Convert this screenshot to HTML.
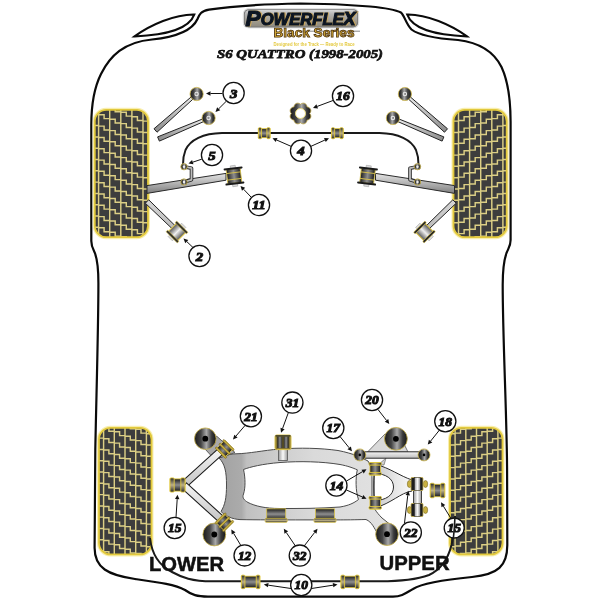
<!DOCTYPE html>
<html><head><meta charset="utf-8"><style>
html,body{margin:0;padding:0;background:#fff;}
svg{display:block;will-change:transform;}
.num{font-family:"Liberation Serif",serif;font-weight:bold;font-style:italic;text-anchor:middle;fill:#111;stroke:#111;stroke-width:1.0;}
.lbl{font-family:"Liberation Sans",sans-serif;font-weight:bold;fill:#111;}
</style></head><body>
<svg width="600" height="600" viewBox="0 0 600 600">
<defs>
<radialGradient id="gBall" cx="0.5" cy="0.5" r="0.5"><stop offset="0" stop-color="#9a9a9a"/><stop offset="0.55" stop-color="#6a6a6a"/><stop offset="1" stop-color="#1e1e1e"/></radialGradient>
<linearGradient id="gDisc" x1="0" y1="0" x2="1" y2="0"><stop offset="0" stop-color="#1a1a1a"/><stop offset="0.3" stop-color="#444"/><stop offset="0.55" stop-color="#a9a9a9"/><stop offset="0.8" stop-color="#3a3a3a"/><stop offset="1" stop-color="#161616"/></linearGradient>
<linearGradient id="gCyl" x1="0" y1="0" x2="0" y2="1"><stop offset="0" stop-color="#1b1b1b"/><stop offset="0.5" stop-color="#8e8e8e"/><stop offset="1" stop-color="#1b1b1b"/></linearGradient>
<linearGradient id="gCylL" x1="0" y1="0" x2="0" y2="1"><stop offset="0" stop-color="#2a2a2a"/><stop offset="0.5" stop-color="#bcb08a"/><stop offset="1" stop-color="#2a2a2a"/></linearGradient>
<linearGradient id="gCylV" x1="0" y1="0" x2="1" y2="0"><stop offset="0" stop-color="#1b1b1b"/><stop offset="0.5" stop-color="#8e8e8e"/><stop offset="1" stop-color="#1b1b1b"/></linearGradient>
<linearGradient id="gCylVL" x1="0" y1="0" x2="1" y2="0"><stop offset="0" stop-color="#2a2a2a"/><stop offset="0.5" stop-color="#bcb08a"/><stop offset="1" stop-color="#2a2a2a"/></linearGradient>
<linearGradient id="gCylV2" x1="0" y1="0" x2="1" y2="0"><stop offset="0" stop-color="#555"/><stop offset="0.5" stop-color="#f0f0f0"/><stop offset="1" stop-color="#555"/></linearGradient>
<linearGradient id="gRod" x1="0" y1="0" x2="0" y2="1"><stop offset="0" stop-color="#f6f6f6"/><stop offset="1" stop-color="#c4c4c4"/></linearGradient>
<linearGradient id="gTube" x1="0" y1="0" x2="1" y2="0"><stop offset="0" stop-color="#9a9a9a"/><stop offset="0.5" stop-color="#fafafa"/><stop offset="1" stop-color="#9a9a9a"/></linearGradient>
<linearGradient id="gArmF" x1="0" y1="0" x2="0" y2="1"><stop offset="0" stop-color="#e4e4e4"/><stop offset="0.4" stop-color="#bdbdbd"/><stop offset="1" stop-color="#7e7e7e"/></linearGradient>
<linearGradient id="gArmC" x1="0" y1="0" x2="1" y2="0"><stop offset="0" stop-color="#c8c8c8"/><stop offset="0.6" stop-color="#e8e8e8"/><stop offset="1" stop-color="#f8f8f8"/></linearGradient>
<linearGradient id="gSub" x1="0" y1="0" x2="1" y2="0"><stop offset="0" stop-color="#a2a2a2"/><stop offset="0.13" stop-color="#ababab"/><stop offset="0.16" stop-color="#c0c0c0"/><stop offset="0.35" stop-color="#cecece"/><stop offset="0.55" stop-color="#dadada"/><stop offset="1" stop-color="#e2e2e2"/></linearGradient>
<linearGradient id="gArm" x1="0" y1="0" x2="0" y2="1"><stop offset="0" stop-color="#f4f4f4"/><stop offset="1" stop-color="#bdbdbd"/></linearGradient>
<linearGradient id="gLogo" x1="0" y1="0" x2="0" y2="1"><stop offset="0" stop-color="#d6d6d6"/><stop offset="0.25" stop-color="#b4b4b4"/><stop offset="0.7" stop-color="#a09a8c"/><stop offset="1" stop-color="#8e8a80"/></linearGradient>
</defs>

<path d="M300.5,3.5 C262,4.2 228,6.6 209,9.6 C201,11 199.5,14 197.5,19 C193,29 181,36.5 152,39.5 C124,42 110,56 101,74 C94,88 91.3,104 91.3,125 L91.3,241 C91.3,245.5 92.5,248 94,251 C96.5,256 98.4,266 98.4,283 C98.4,330 96.2,400 95.3,450 L94.6,548 C94.6,568 108,575 135,579 C160,582.5 175,584.5 185,590 C192,595 197,596.6 208,596.6 L393,596.6 C402,596.6 406,593 413,589 C421,584 440,580 472,577 C498,574.5 507.3,566 507.3,545 L507.1,475 C507.1,420 502.7,340 502.7,285 C502.7,270 504,260 506.5,253 C508.5,248 510.6,246 510.6,240 L510.6,122 C510.6,99 507.5,80 501.5,67 C494,52 479,42.5 458,40 C436,38.5 420,36 411.5,29.5 C406,24 404.5,15.5 401,12.6 C396,10 382,7.6 370,6.5 C345,4.3 320,3.5 300.5,3.5 Z" fill="none" stroke="#0a0a0a" stroke-width="2.2"/>
<path d="M134.5,36.4 C150,25 175,14 194.4,14.4 C189,29 168,35 134.5,36.4 Z" fill="#fff" stroke="#0a0a0a" stroke-width="2"/>
<path d="M467,36.4 C451.5,25 426.5,14 407.1,14.4 C412.5,29 433.5,35 467,36.4 Z" fill="#fff" stroke="#0a0a0a" stroke-width="2"/>
<clipPath id="clip941090"><rect x="94.8" y="109.8" width="53.2" height="127.4" rx="11.5"/></clipPath>
<rect x="93.6" y="108.6" width="55.6" height="129.8" rx="12.5" fill="none" stroke="#f6ea9a" stroke-width="1.6" opacity="0.8"/>
<rect x="94.8" y="109.8" width="53.2" height="127.4" rx="11.5" fill="#3d3d3d"/>
<path clip-path="url(#clip941090)" d="M87.5,109.8 V237.2 M87.5,87.8 H93.0 V91.6 H98.6 M87.5,99.2 H93.0 V103.0 H98.6 M87.5,110.5 H93.0 V114.2 H98.6 M87.5,121.8 H93.0 V125.5 H98.6 M87.5,133.1 H93.0 V136.9 H98.6 M87.5,144.4 H93.0 V148.2 H98.6 M87.5,155.7 H93.0 V159.5 H98.6 M87.5,166.9 H93.0 V170.8 H98.6 M87.5,178.2 H93.0 V182.1 H98.6 M87.5,189.6 H93.0 V193.4 H98.6 M87.5,200.9 H93.0 V204.7 H98.6 M87.5,212.2 H93.0 V216.0 H98.6 M87.5,223.4 H93.0 V227.2 H98.6 M87.5,234.8 H93.0 V238.6 H98.6 M87.5,246.1 H93.0 V249.9 H98.6 M98.6,109.8 V237.2 M98.6,92.2 H104.1 V96.0 H109.7 M98.6,103.5 H104.1 V107.3 H109.7 M98.6,114.8 H104.1 V118.6 H109.7 M98.6,126.1 H104.1 V129.9 H109.7 M98.6,137.4 H104.1 V141.2 H109.7 M98.6,148.8 H104.1 V152.6 H109.7 M98.6,160.1 H104.1 V163.9 H109.7 M98.6,171.3 H104.1 V175.2 H109.7 M98.6,182.7 H104.1 V186.5 H109.7 M98.6,193.9 H104.1 V197.8 H109.7 M98.6,205.2 H104.1 V209.1 H109.7 M98.6,216.6 H104.1 V220.4 H109.7 M98.6,227.8 H104.1 V231.7 H109.7 M98.6,239.2 H104.1 V243.0 H109.7 M109.7,109.8 V237.2 M109.7,96.7 H115.2 V100.5 H120.8 M109.7,108.0 H115.2 V111.8 H120.8 M109.7,119.2 H115.2 V123.0 H120.8 M109.7,130.6 H115.2 V134.4 H120.8 M109.7,141.8 H115.2 V145.7 H120.8 M109.7,153.2 H115.2 V157.0 H120.8 M109.7,164.4 H115.2 V168.2 H120.8 M109.7,175.8 H115.2 V179.6 H120.8 M109.7,187.1 H115.2 V190.9 H120.8 M109.7,198.4 H115.2 V202.2 H120.8 M109.7,209.7 H115.2 V213.5 H120.8 M109.7,220.9 H115.2 V224.8 H120.8 M109.7,232.2 H115.2 V236.1 H120.8 M109.7,243.6 H115.2 V247.4 H120.8 M120.8,109.8 V237.2 M120.8,89.8 H126.3 V93.5 H131.9 M120.8,101.0 H126.3 V104.8 H131.9 M120.8,112.3 H126.3 V116.1 H131.9 M120.8,123.6 H126.3 V127.4 H131.9 M120.8,134.9 H126.3 V138.8 H131.9 M120.8,146.2 H126.3 V150.1 H131.9 M120.8,157.6 H126.3 V161.4 H131.9 M120.8,168.8 H126.3 V172.7 H131.9 M120.8,180.2 H126.3 V184.0 H131.9 M120.8,191.4 H126.3 V195.2 H131.9 M120.8,202.8 H126.3 V206.6 H131.9 M120.8,214.1 H126.3 V217.9 H131.9 M120.8,225.3 H126.3 V229.2 H131.9 M120.8,236.7 H126.3 V240.5 H131.9 M120.8,248.0 H126.3 V251.8 H131.9 M131.9,109.8 V237.2 M131.9,94.2 H137.4 V98.0 H143.0 M131.9,105.5 H137.4 V109.2 H143.0 M131.9,116.8 H137.4 V120.5 H143.0 M131.9,128.1 H137.4 V131.9 H143.0 M131.9,139.3 H137.4 V143.2 H143.0 M131.9,150.7 H137.4 V154.5 H143.0 M131.9,161.9 H137.4 V165.8 H143.0 M131.9,173.2 H137.4 V177.1 H143.0 M131.9,184.6 H137.4 V188.4 H143.0 M131.9,195.9 H137.4 V199.7 H143.0 M131.9,207.2 H137.4 V211.0 H143.0 M131.9,218.4 H137.4 V222.2 H143.0 M131.9,229.8 H137.4 V233.6 H143.0 M131.9,241.1 H137.4 V244.9 H143.0 M143.0,109.8 V237.2 M143.0,87.2 H148.6 V91.0 H154.1 M143.0,98.5 H148.6 V102.3 H154.1 M143.0,109.8 H148.6 V113.6 H154.1 M143.0,121.1 H148.6 V124.9 H154.1 M143.0,132.4 H148.6 V136.2 H154.1 M143.0,143.8 H148.6 V147.6 H154.1 M143.0,155.1 H148.6 V158.9 H154.1 M143.0,166.3 H148.6 V170.2 H154.1 M143.0,177.7 H148.6 V181.5 H154.1 M143.0,188.9 H148.6 V192.8 H154.1 M143.0,200.2 H148.6 V204.1 H154.1 M143.0,211.6 H148.6 V215.4 H154.1 M143.0,222.8 H148.6 V226.7 H154.1 M143.0,234.2 H148.6 V238.0 H154.1 M143.0,245.5 H148.6 V249.3 H154.1 M154.1,109.8 V237.2 M154.1,91.7 H159.7 V95.5 H165.2 M154.1,103.0 H159.7 V106.8 H165.2 M154.1,114.2 H159.7 V118.0 H165.2 M154.1,125.5 H159.7 V129.3 H165.2 M154.1,136.8 H159.7 V140.7 H165.2 M154.1,148.2 H159.7 V152.0 H165.2 M154.1,159.4 H159.7 V163.2 H165.2 M154.1,170.8 H159.7 V174.6 H165.2 M154.1,182.1 H159.7 V185.9 H165.2 M154.1,193.4 H159.7 V197.2 H165.2 M154.1,204.7 H159.7 V208.5 H165.2 M154.1,215.9 H159.7 V219.8 H165.2 M154.1,227.2 H159.7 V231.1 H165.2 M154.1,238.6 H159.7 V242.4 H165.2" fill="none" stroke="#dccf85" stroke-width="1.45"/>
<rect x="94.8" y="109.8" width="53.2" height="127.4" rx="11.5" fill="none" stroke="#e2c93c" stroke-width="1.8"/>
<g transform="translate(601.5,0) scale(-1,1)">
<clipPath id="clip941091"><rect x="94.8" y="109.8" width="53.2" height="127.4" rx="11.5"/></clipPath>
<rect x="93.6" y="108.6" width="55.6" height="129.8" rx="12.5" fill="none" stroke="#f6ea9a" stroke-width="1.6" opacity="0.8"/>
<rect x="94.8" y="109.8" width="53.2" height="127.4" rx="11.5" fill="#3d3d3d"/>
<path clip-path="url(#clip941091)" d="M87.5,109.8 V237.2 M87.5,87.8 H93.0 V91.6 H98.6 M87.5,99.2 H93.0 V103.0 H98.6 M87.5,110.5 H93.0 V114.2 H98.6 M87.5,121.8 H93.0 V125.5 H98.6 M87.5,133.1 H93.0 V136.9 H98.6 M87.5,144.4 H93.0 V148.2 H98.6 M87.5,155.7 H93.0 V159.5 H98.6 M87.5,166.9 H93.0 V170.8 H98.6 M87.5,178.2 H93.0 V182.1 H98.6 M87.5,189.6 H93.0 V193.4 H98.6 M87.5,200.9 H93.0 V204.7 H98.6 M87.5,212.2 H93.0 V216.0 H98.6 M87.5,223.4 H93.0 V227.2 H98.6 M87.5,234.8 H93.0 V238.6 H98.6 M87.5,246.1 H93.0 V249.9 H98.6 M98.6,109.8 V237.2 M98.6,92.2 H104.1 V96.0 H109.7 M98.6,103.5 H104.1 V107.3 H109.7 M98.6,114.8 H104.1 V118.6 H109.7 M98.6,126.1 H104.1 V129.9 H109.7 M98.6,137.4 H104.1 V141.2 H109.7 M98.6,148.8 H104.1 V152.6 H109.7 M98.6,160.1 H104.1 V163.9 H109.7 M98.6,171.3 H104.1 V175.2 H109.7 M98.6,182.7 H104.1 V186.5 H109.7 M98.6,193.9 H104.1 V197.8 H109.7 M98.6,205.2 H104.1 V209.1 H109.7 M98.6,216.6 H104.1 V220.4 H109.7 M98.6,227.8 H104.1 V231.7 H109.7 M98.6,239.2 H104.1 V243.0 H109.7 M109.7,109.8 V237.2 M109.7,96.7 H115.2 V100.5 H120.8 M109.7,108.0 H115.2 V111.8 H120.8 M109.7,119.2 H115.2 V123.0 H120.8 M109.7,130.6 H115.2 V134.4 H120.8 M109.7,141.8 H115.2 V145.7 H120.8 M109.7,153.2 H115.2 V157.0 H120.8 M109.7,164.4 H115.2 V168.2 H120.8 M109.7,175.8 H115.2 V179.6 H120.8 M109.7,187.1 H115.2 V190.9 H120.8 M109.7,198.4 H115.2 V202.2 H120.8 M109.7,209.7 H115.2 V213.5 H120.8 M109.7,220.9 H115.2 V224.8 H120.8 M109.7,232.2 H115.2 V236.1 H120.8 M109.7,243.6 H115.2 V247.4 H120.8 M120.8,109.8 V237.2 M120.8,89.8 H126.3 V93.5 H131.9 M120.8,101.0 H126.3 V104.8 H131.9 M120.8,112.3 H126.3 V116.1 H131.9 M120.8,123.6 H126.3 V127.4 H131.9 M120.8,134.9 H126.3 V138.8 H131.9 M120.8,146.2 H126.3 V150.1 H131.9 M120.8,157.6 H126.3 V161.4 H131.9 M120.8,168.8 H126.3 V172.7 H131.9 M120.8,180.2 H126.3 V184.0 H131.9 M120.8,191.4 H126.3 V195.2 H131.9 M120.8,202.8 H126.3 V206.6 H131.9 M120.8,214.1 H126.3 V217.9 H131.9 M120.8,225.3 H126.3 V229.2 H131.9 M120.8,236.7 H126.3 V240.5 H131.9 M120.8,248.0 H126.3 V251.8 H131.9 M131.9,109.8 V237.2 M131.9,94.2 H137.4 V98.0 H143.0 M131.9,105.5 H137.4 V109.2 H143.0 M131.9,116.8 H137.4 V120.5 H143.0 M131.9,128.1 H137.4 V131.9 H143.0 M131.9,139.3 H137.4 V143.2 H143.0 M131.9,150.7 H137.4 V154.5 H143.0 M131.9,161.9 H137.4 V165.8 H143.0 M131.9,173.2 H137.4 V177.1 H143.0 M131.9,184.6 H137.4 V188.4 H143.0 M131.9,195.9 H137.4 V199.7 H143.0 M131.9,207.2 H137.4 V211.0 H143.0 M131.9,218.4 H137.4 V222.2 H143.0 M131.9,229.8 H137.4 V233.6 H143.0 M131.9,241.1 H137.4 V244.9 H143.0 M143.0,109.8 V237.2 M143.0,87.2 H148.6 V91.0 H154.1 M143.0,98.5 H148.6 V102.3 H154.1 M143.0,109.8 H148.6 V113.6 H154.1 M143.0,121.1 H148.6 V124.9 H154.1 M143.0,132.4 H148.6 V136.2 H154.1 M143.0,143.8 H148.6 V147.6 H154.1 M143.0,155.1 H148.6 V158.9 H154.1 M143.0,166.3 H148.6 V170.2 H154.1 M143.0,177.7 H148.6 V181.5 H154.1 M143.0,188.9 H148.6 V192.8 H154.1 M143.0,200.2 H148.6 V204.1 H154.1 M143.0,211.6 H148.6 V215.4 H154.1 M143.0,222.8 H148.6 V226.7 H154.1 M143.0,234.2 H148.6 V238.0 H154.1 M143.0,245.5 H148.6 V249.3 H154.1 M154.1,109.8 V237.2 M154.1,91.7 H159.7 V95.5 H165.2 M154.1,103.0 H159.7 V106.8 H165.2 M154.1,114.2 H159.7 V118.0 H165.2 M154.1,125.5 H159.7 V129.3 H165.2 M154.1,136.8 H159.7 V140.7 H165.2 M154.1,148.2 H159.7 V152.0 H165.2 M154.1,159.4 H159.7 V163.2 H165.2 M154.1,170.8 H159.7 V174.6 H165.2 M154.1,182.1 H159.7 V185.9 H165.2 M154.1,193.4 H159.7 V197.2 H165.2 M154.1,204.7 H159.7 V208.5 H165.2 M154.1,215.9 H159.7 V219.8 H165.2 M154.1,227.2 H159.7 V231.1 H165.2 M154.1,238.6 H159.7 V242.4 H165.2" fill="none" stroke="#dccf85" stroke-width="1.45"/>
<rect x="94.8" y="109.8" width="53.2" height="127.4" rx="11.5" fill="none" stroke="#e2c93c" stroke-width="1.8"/>
</g>
<clipPath id="clip994270"><rect x="99" y="427.8" width="52.5" height="126.6" rx="11.5"/></clipPath>
<rect x="97.8" y="426.6" width="54.9" height="129.0" rx="12.5" fill="none" stroke="#f6ea9a" stroke-width="1.6" opacity="0.8"/>
<rect x="99" y="427.8" width="52.5" height="126.6" rx="11.5" fill="#3d3d3d"/>
<path clip-path="url(#clip994270)" d="M92.9,427.8 V554.4 M92.9,411.6 H98.2 V415.4 H103.6 M92.9,422.9 H98.2 V426.8 H103.6 M92.9,434.2 H98.2 V438.1 H103.6 M92.9,445.6 H98.2 V449.4 H103.6 M92.9,456.9 H98.2 V460.7 H103.6 M92.9,468.1 H98.2 V471.9 H103.6 M92.9,479.4 H98.2 V483.2 H103.6 M92.9,490.8 H98.2 V494.6 H103.6 M92.9,502.1 H98.2 V505.9 H103.6 M92.9,513.4 H98.2 V517.1 H103.6 M92.9,524.6 H98.2 V528.4 H103.6 M92.9,536.0 H98.2 V539.8 H103.6 M92.9,547.2 H98.2 V551.0 H103.6 M92.9,558.5 H98.2 V562.3 H103.6 M103.6,427.8 V554.4 M103.6,416.1 H108.9 V419.9 H114.3 M103.6,427.4 H108.9 V431.2 H114.3 M103.6,438.7 H108.9 V442.5 H114.3 M103.6,450.0 H108.9 V453.8 H114.3 M103.6,461.3 H108.9 V465.1 H114.3 M103.6,472.6 H108.9 V476.4 H114.3 M103.6,483.9 H108.9 V487.7 H114.3 M103.6,495.2 H108.9 V499.0 H114.3 M103.6,506.5 H108.9 V510.3 H114.3 M103.6,517.8 H108.9 V521.5 H114.3 M103.6,529.1 H108.9 V532.9 H114.3 M103.6,540.4 H108.9 V544.1 H114.3 M103.6,551.7 H108.9 V555.5 H114.3 M103.6,563.0 H108.9 V566.8 H114.3 M114.3,427.8 V554.4 M114.3,409.1 H119.6 V412.9 H125.0 M114.3,420.4 H119.6 V424.2 H125.0 M114.3,431.8 H119.6 V435.6 H125.0 M114.3,443.1 H119.6 V446.9 H125.0 M114.3,454.4 H119.6 V458.2 H125.0 M114.3,465.6 H119.6 V469.4 H125.0 M114.3,476.9 H119.6 V480.8 H125.0 M114.3,488.2 H119.6 V492.1 H125.0 M114.3,499.6 H119.6 V503.4 H125.0 M114.3,510.9 H119.6 V514.6 H125.0 M114.3,522.1 H119.6 V525.9 H125.0 M114.3,533.5 H119.6 V537.2 H125.0 M114.3,544.8 H119.6 V548.5 H125.0 M114.3,556.0 H119.6 V559.8 H125.0 M125.0,427.8 V554.4 M125.0,413.6 H130.3 V417.4 H135.7 M125.0,424.9 H130.3 V428.7 H135.7 M125.0,436.2 H130.3 V440.0 H135.7 M125.0,447.5 H130.3 V451.3 H135.7 M125.0,458.8 H130.3 V462.6 H135.7 M125.0,470.1 H130.3 V473.9 H135.7 M125.0,481.4 H130.3 V485.2 H135.7 M125.0,492.7 H130.3 V496.5 H135.7 M125.0,504.0 H130.3 V507.8 H135.7 M125.0,515.2 H130.3 V519.0 H135.7 M125.0,526.6 H130.3 V530.4 H135.7 M125.0,537.9 H130.3 V541.6 H135.7 M125.0,549.2 H130.3 V553.0 H135.7 M125.0,560.5 H130.3 V564.2 H135.7 M135.7,427.8 V554.4 M135.7,406.6 H141.0 V410.4 H146.4 M135.7,417.9 H141.0 V421.8 H146.4 M135.7,429.2 H141.0 V433.1 H146.4 M135.7,440.6 H141.0 V444.4 H146.4 M135.7,451.9 H141.0 V455.7 H146.4 M135.7,463.1 H141.0 V466.9 H146.4 M135.7,474.4 H141.0 V478.2 H146.4 M135.7,485.8 H141.0 V489.6 H146.4 M135.7,497.1 H141.0 V500.9 H146.4 M135.7,508.4 H141.0 V512.1 H146.4 M135.7,519.6 H141.0 V523.4 H146.4 M135.7,531.0 H141.0 V534.8 H146.4 M135.7,542.2 H141.0 V546.0 H146.4 M135.7,553.5 H141.0 V557.3 H146.4 M135.7,564.9 H141.0 V568.6 H146.4 M146.4,427.8 V554.4 M146.4,411.1 H151.7 V414.9 H157.1 M146.4,422.4 H151.7 V426.2 H157.1 M146.4,433.7 H151.7 V437.5 H157.1 M146.4,445.0 H151.7 V448.8 H157.1 M146.4,456.3 H151.7 V460.1 H157.1 M146.4,467.6 H151.7 V471.4 H157.1 M146.4,478.9 H151.7 V482.7 H157.1 M146.4,490.2 H151.7 V494.0 H157.1 M146.4,501.5 H151.7 V505.3 H157.1 M146.4,512.8 H151.7 V516.5 H157.1 M146.4,524.1 H151.7 V527.9 H157.1 M146.4,535.4 H151.7 V539.1 H157.1 M146.4,546.7 H151.7 V550.5 H157.1 M146.4,558.0 H151.7 V561.8 H157.1 M157.1,427.8 V554.4 M157.1,415.4 H162.4 V419.2 H167.8 M157.1,426.8 H162.4 V430.6 H167.8 M157.1,438.1 H162.4 V441.9 H167.8 M157.1,449.4 H162.4 V453.2 H167.8 M157.1,460.7 H162.4 V464.5 H167.8 M157.1,472.0 H162.4 V475.8 H167.8 M157.1,483.2 H162.4 V487.1 H167.8 M157.1,494.6 H162.4 V498.4 H167.8 M157.1,505.9 H162.4 V509.7 H167.8 M157.1,517.1 H162.4 V520.9 H167.8 M157.1,528.5 H162.4 V532.2 H167.8 M157.1,539.8 H162.4 V543.5 H167.8 M157.1,551.0 H162.4 V554.8 H167.8 M157.1,562.4 H162.4 V566.1 H167.8" fill="none" stroke="#dccf85" stroke-width="1.45"/>
<rect x="99" y="427.8" width="52.5" height="126.6" rx="11.5" fill="none" stroke="#e2c93c" stroke-width="1.8"/>
<g transform="translate(601.5,0) scale(-1,1)">
<clipPath id="clip994271"><rect x="99" y="427.8" width="52.5" height="126.6" rx="11.5"/></clipPath>
<rect x="97.8" y="426.6" width="54.9" height="129.0" rx="12.5" fill="none" stroke="#f6ea9a" stroke-width="1.6" opacity="0.8"/>
<rect x="99" y="427.8" width="52.5" height="126.6" rx="11.5" fill="#3d3d3d"/>
<path clip-path="url(#clip994271)" d="M92.9,427.8 V554.4 M92.9,411.6 H98.2 V415.4 H103.6 M92.9,422.9 H98.2 V426.8 H103.6 M92.9,434.2 H98.2 V438.1 H103.6 M92.9,445.6 H98.2 V449.4 H103.6 M92.9,456.9 H98.2 V460.7 H103.6 M92.9,468.1 H98.2 V471.9 H103.6 M92.9,479.4 H98.2 V483.2 H103.6 M92.9,490.8 H98.2 V494.6 H103.6 M92.9,502.1 H98.2 V505.9 H103.6 M92.9,513.4 H98.2 V517.1 H103.6 M92.9,524.6 H98.2 V528.4 H103.6 M92.9,536.0 H98.2 V539.8 H103.6 M92.9,547.2 H98.2 V551.0 H103.6 M92.9,558.5 H98.2 V562.3 H103.6 M103.6,427.8 V554.4 M103.6,416.1 H108.9 V419.9 H114.3 M103.6,427.4 H108.9 V431.2 H114.3 M103.6,438.7 H108.9 V442.5 H114.3 M103.6,450.0 H108.9 V453.8 H114.3 M103.6,461.3 H108.9 V465.1 H114.3 M103.6,472.6 H108.9 V476.4 H114.3 M103.6,483.9 H108.9 V487.7 H114.3 M103.6,495.2 H108.9 V499.0 H114.3 M103.6,506.5 H108.9 V510.3 H114.3 M103.6,517.8 H108.9 V521.5 H114.3 M103.6,529.1 H108.9 V532.9 H114.3 M103.6,540.4 H108.9 V544.1 H114.3 M103.6,551.7 H108.9 V555.5 H114.3 M103.6,563.0 H108.9 V566.8 H114.3 M114.3,427.8 V554.4 M114.3,409.1 H119.6 V412.9 H125.0 M114.3,420.4 H119.6 V424.2 H125.0 M114.3,431.8 H119.6 V435.6 H125.0 M114.3,443.1 H119.6 V446.9 H125.0 M114.3,454.4 H119.6 V458.2 H125.0 M114.3,465.6 H119.6 V469.4 H125.0 M114.3,476.9 H119.6 V480.8 H125.0 M114.3,488.2 H119.6 V492.1 H125.0 M114.3,499.6 H119.6 V503.4 H125.0 M114.3,510.9 H119.6 V514.6 H125.0 M114.3,522.1 H119.6 V525.9 H125.0 M114.3,533.5 H119.6 V537.2 H125.0 M114.3,544.8 H119.6 V548.5 H125.0 M114.3,556.0 H119.6 V559.8 H125.0 M125.0,427.8 V554.4 M125.0,413.6 H130.3 V417.4 H135.7 M125.0,424.9 H130.3 V428.7 H135.7 M125.0,436.2 H130.3 V440.0 H135.7 M125.0,447.5 H130.3 V451.3 H135.7 M125.0,458.8 H130.3 V462.6 H135.7 M125.0,470.1 H130.3 V473.9 H135.7 M125.0,481.4 H130.3 V485.2 H135.7 M125.0,492.7 H130.3 V496.5 H135.7 M125.0,504.0 H130.3 V507.8 H135.7 M125.0,515.2 H130.3 V519.0 H135.7 M125.0,526.6 H130.3 V530.4 H135.7 M125.0,537.9 H130.3 V541.6 H135.7 M125.0,549.2 H130.3 V553.0 H135.7 M125.0,560.5 H130.3 V564.2 H135.7 M135.7,427.8 V554.4 M135.7,406.6 H141.0 V410.4 H146.4 M135.7,417.9 H141.0 V421.8 H146.4 M135.7,429.2 H141.0 V433.1 H146.4 M135.7,440.6 H141.0 V444.4 H146.4 M135.7,451.9 H141.0 V455.7 H146.4 M135.7,463.1 H141.0 V466.9 H146.4 M135.7,474.4 H141.0 V478.2 H146.4 M135.7,485.8 H141.0 V489.6 H146.4 M135.7,497.1 H141.0 V500.9 H146.4 M135.7,508.4 H141.0 V512.1 H146.4 M135.7,519.6 H141.0 V523.4 H146.4 M135.7,531.0 H141.0 V534.8 H146.4 M135.7,542.2 H141.0 V546.0 H146.4 M135.7,553.5 H141.0 V557.3 H146.4 M135.7,564.9 H141.0 V568.6 H146.4 M146.4,427.8 V554.4 M146.4,411.1 H151.7 V414.9 H157.1 M146.4,422.4 H151.7 V426.2 H157.1 M146.4,433.7 H151.7 V437.5 H157.1 M146.4,445.0 H151.7 V448.8 H157.1 M146.4,456.3 H151.7 V460.1 H157.1 M146.4,467.6 H151.7 V471.4 H157.1 M146.4,478.9 H151.7 V482.7 H157.1 M146.4,490.2 H151.7 V494.0 H157.1 M146.4,501.5 H151.7 V505.3 H157.1 M146.4,512.8 H151.7 V516.5 H157.1 M146.4,524.1 H151.7 V527.9 H157.1 M146.4,535.4 H151.7 V539.1 H157.1 M146.4,546.7 H151.7 V550.5 H157.1 M146.4,558.0 H151.7 V561.8 H157.1 M157.1,427.8 V554.4 M157.1,415.4 H162.4 V419.2 H167.8 M157.1,426.8 H162.4 V430.6 H167.8 M157.1,438.1 H162.4 V441.9 H167.8 M157.1,449.4 H162.4 V453.2 H167.8 M157.1,460.7 H162.4 V464.5 H167.8 M157.1,472.0 H162.4 V475.8 H167.8 M157.1,483.2 H162.4 V487.1 H167.8 M157.1,494.6 H162.4 V498.4 H167.8 M157.1,505.9 H162.4 V509.7 H167.8 M157.1,517.1 H162.4 V520.9 H167.8 M157.1,528.5 H162.4 V532.2 H167.8 M157.1,539.8 H162.4 V543.5 H167.8 M157.1,551.0 H162.4 V554.8 H167.8 M157.1,562.4 H162.4 V566.1 H167.8" fill="none" stroke="#dccf85" stroke-width="1.45"/>
<rect x="99" y="427.8" width="52.5" height="126.6" rx="11.5" fill="none" stroke="#e2c93c" stroke-width="1.8"/>
</g>
<rect x="243.3" y="8.6" width="115.4" height="19.4" rx="5.5" fill="#777" stroke="#e2e2e2" stroke-width="1.1"/>
<rect x="244.8" y="10" width="112.4" height="16.6" rx="4.5" fill="url(#gLogo)"/>
<text x="245.6" y="24.6" font-family="Liberation Sans, sans-serif" font-weight="bold" font-style="italic" fill="#c9a65e" stroke="#c9a65e" stroke-width="1.1" textLength="110" lengthAdjust="spacingAndGlyphs" transform="translate(1.1,0.4)"><tspan font-size="22" dy="0.9">P</tspan><tspan font-size="16.2" dy="-0.9">OWERFLE</tspan><tspan font-size="17.5">X</tspan></text>
<text x="245.6" y="24.6" font-family="Liberation Sans, sans-serif" font-weight="bold" font-style="italic" fill="#0c1522" stroke="#0c1522" stroke-width="1.1" textLength="110" lengthAdjust="spacingAndGlyphs"><tspan font-size="22" dy="0.9">P</tspan><tspan font-size="16.2" dy="-0.9">OWERFLE</tspan><tspan font-size="17.5">X</tspan></text>
<line x1="300" y1="31.2" x2="360" y2="31.2" stroke="#6b6b6b" stroke-width="0.8"/>
<text x="273.5" y="36.6" font-family="Liberation Sans, sans-serif" font-weight="bold" font-size="12.6" fill="#d6ab36" stroke="#4d3410" stroke-width="0.75" textLength="81" lengthAdjust="spacingAndGlyphs">Black Series</text>
<text x="273.5" y="45.6" font-family="Liberation Sans, sans-serif" font-size="5.6" font-weight="bold" fill="#e4c93e" textLength="81" lengthAdjust="spacingAndGlyphs">Designed for the Track — Ready to Race</text>
<text x="300" y="58" text-anchor="middle" font-family="Liberation Serif, serif" font-weight="bold" font-style="italic" font-size="13.5" fill="#111" stroke="#111" stroke-width="0.75" textLength="166" lengthAdjust="spacingAndGlyphs">S6 QUATTRO (1998-2005)</text>
<linearGradient id="rg1" gradientUnits="userSpaceOnUse" x1="155.5" y1="130.5" x2="196.6" y2="94"><stop offset="0" stop-color="#8c8c8c"/><stop offset="1" stop-color="#f2f2f2"/></linearGradient>
<path d="M157.03,132.22 L197.46,94.97 L195.74,93.03 L153.97,128.78 Z" fill="url(#rg1)" stroke="#222" stroke-width="1" stroke-linejoin="round"/>
<linearGradient id="rg2" gradientUnits="userSpaceOnUse" x1="158.5" y1="139" x2="208.6" y2="118"><stop offset="0" stop-color="#8c8c8c"/><stop offset="1" stop-color="#f2f2f2"/></linearGradient>
<path d="M159.39,141.12 L209.10,119.20 L208.10,116.80 L157.61,136.88 Z" fill="url(#rg2)" stroke="#222" stroke-width="1" stroke-linejoin="round"/>
<circle cx="196.6" cy="94" r="6.6" fill="url(#gDisc)" stroke="#cdb64c" stroke-width="0.8"/>
<circle cx="196.6" cy="94" r="1.7" fill="none" stroke="#e8e8e8" stroke-width="1.1"/>
<circle cx="208.6" cy="118" r="6.6" fill="url(#gDisc)" stroke="#cdb64c" stroke-width="0.8"/>
<circle cx="208.6" cy="118" r="1.7" fill="none" stroke="#e8e8e8" stroke-width="1.1"/>
<path d="M147,185.6 L226,173.4 L226,180.2 L147,193.4 Z" fill="url(#gArmF)" stroke="#2a2a2a" stroke-width="1"/>
<linearGradient id="rg3" gradientUnits="userSpaceOnUse" x1="147" y1="201.5" x2="175" y2="228.5"><stop offset="0" stop-color="#d4d4d4"/><stop offset="1" stop-color="#bcbcbc"/></linearGradient>
<path d="M145.33,203.23 L173.54,230.01 L176.46,226.99 L148.67,199.77 Z" fill="url(#rg3)" stroke="#222" stroke-width="1" stroke-linejoin="round"/>
<path d="M302,133 L222,133 C203,133.3 190,140 185.5,150 C183.5,155 183,160 183,164.5" fill="none" stroke="#1a1a1a" stroke-width="2"/>
<path d="M184,166.7 L191.5,168.2 L191.5,179.8 L184,182" fill="none" stroke="#2a2a2a" stroke-width="3.6" stroke-linejoin="round"/>
<path d="M184,166.7 L191.5,168.2 L191.5,179.8 L184,182" fill="none" stroke="#bdbdbd" stroke-width="1.8" stroke-linejoin="round"/>
<circle cx="184" cy="166.7" r="3.2" fill="url(#gDisc)" stroke="#cdb64c" stroke-width="0.8"/>
<circle cx="184" cy="166.7" r="1.2" fill="#eee"/>
<circle cx="184" cy="182" r="3.2" fill="url(#gDisc)" stroke="#cdb64c" stroke-width="0.8"/>
<circle cx="184" cy="182" r="1.2" fill="#eee"/>
<g transform="translate(264.2,133.2) rotate(0)">
<rect x="-5.85" y="-4.5" width="11.7" height="9" fill="url(#gCyl)" stroke="#e2c93c" stroke-width="0.8"/>
<rect x="-5.85" y="-5.5" width="3.2" height="11" rx="1" fill="url(#gCylL)" stroke="#e2c93c" stroke-width="0.9"/>
<rect x="2.6499999999999995" y="-5.5" width="3.2" height="11" rx="1" fill="url(#gCylL)" stroke="#e2c93c" stroke-width="0.9"/>
</g>
<g transform="translate(234,176) rotate(-7)">
<rect x="-2.5" y="-10.5" width="5" height="3" fill="#ddd" stroke="#999" stroke-width="0.5"/>
<rect x="-2.5" y="7.5" width="5" height="3" fill="#ddd" stroke="#999" stroke-width="0.5"/>
<rect x="-7" y="-7.2" width="14" height="14.4" fill="url(#gCylV)" stroke="#d8c24a" stroke-width="0.8"/>
<line x1="-7" y1="-3.3" x2="7" y2="-3.3" stroke="#d8c24a" stroke-width="0.9"/>
<line x1="-7" y1="3.3" x2="7" y2="3.3" stroke="#d8c24a" stroke-width="0.9"/>
<rect x="-9.5" y="-8.6" width="19" height="2" rx="0.8" fill="#1a1a1a"/>
<rect x="-9.5" y="6.6" width="19" height="2" rx="0.8" fill="#1a1a1a"/>
</g>
<g transform="translate(177,232) rotate(45)">
<rect x="-3" y="-9.5" width="6" height="3" fill="#ddd" stroke="#999" stroke-width="0.5"/>
<rect x="-3" y="6.5" width="6" height="3" fill="#ddd" stroke="#999" stroke-width="0.5"/>
<rect x="-6.5" y="-6.5" width="13" height="13" fill="url(#gCylV2)" stroke="#d8c24a" stroke-width="1"/>
<rect x="-8" y="-7.5" width="16" height="2.2" rx="0.8" fill="#2a2a2a" stroke="#d8c24a" stroke-width="0.6"/>
<rect x="-8" y="5.3" width="16" height="2.2" rx="0.8" fill="#2a2a2a" stroke="#d8c24a" stroke-width="0.6"/>
</g>
<g transform="translate(601.5,0) scale(-1,1)">
<linearGradient id="rg4" gradientUnits="userSpaceOnUse" x1="155.5" y1="130.5" x2="196.6" y2="94"><stop offset="0" stop-color="#8c8c8c"/><stop offset="1" stop-color="#f2f2f2"/></linearGradient>
<path d="M157.03,132.22 L197.46,94.97 L195.74,93.03 L153.97,128.78 Z" fill="url(#rg4)" stroke="#222" stroke-width="1" stroke-linejoin="round"/>
<linearGradient id="rg5" gradientUnits="userSpaceOnUse" x1="158.5" y1="139" x2="208.6" y2="118"><stop offset="0" stop-color="#8c8c8c"/><stop offset="1" stop-color="#f2f2f2"/></linearGradient>
<path d="M159.39,141.12 L209.10,119.20 L208.10,116.80 L157.61,136.88 Z" fill="url(#rg5)" stroke="#222" stroke-width="1" stroke-linejoin="round"/>
<circle cx="196.6" cy="94" r="6.6" fill="url(#gDisc)" stroke="#cdb64c" stroke-width="0.8"/>
<circle cx="196.6" cy="94" r="1.7" fill="none" stroke="#e8e8e8" stroke-width="1.1"/>
<circle cx="208.6" cy="118" r="6.6" fill="url(#gDisc)" stroke="#cdb64c" stroke-width="0.8"/>
<circle cx="208.6" cy="118" r="1.7" fill="none" stroke="#e8e8e8" stroke-width="1.1"/>
<path d="M147,185.6 L226,173.4 L226,180.2 L147,193.4 Z" fill="url(#gArmF)" stroke="#2a2a2a" stroke-width="1"/>
<linearGradient id="rg6" gradientUnits="userSpaceOnUse" x1="147" y1="201.5" x2="175" y2="228.5"><stop offset="0" stop-color="#d4d4d4"/><stop offset="1" stop-color="#bcbcbc"/></linearGradient>
<path d="M145.33,203.23 L173.54,230.01 L176.46,226.99 L148.67,199.77 Z" fill="url(#rg6)" stroke="#222" stroke-width="1" stroke-linejoin="round"/>
<path d="M302,133 L222,133 C203,133.3 190,140 185.5,150 C183.5,155 183,160 183,164.5" fill="none" stroke="#1a1a1a" stroke-width="2"/>
<path d="M184,166.7 L191.5,168.2 L191.5,179.8 L184,182" fill="none" stroke="#2a2a2a" stroke-width="3.6" stroke-linejoin="round"/>
<path d="M184,166.7 L191.5,168.2 L191.5,179.8 L184,182" fill="none" stroke="#bdbdbd" stroke-width="1.8" stroke-linejoin="round"/>
<circle cx="184" cy="166.7" r="3.2" fill="url(#gDisc)" stroke="#cdb64c" stroke-width="0.8"/>
<circle cx="184" cy="166.7" r="1.2" fill="#eee"/>
<circle cx="184" cy="182" r="3.2" fill="url(#gDisc)" stroke="#cdb64c" stroke-width="0.8"/>
<circle cx="184" cy="182" r="1.2" fill="#eee"/>
<g transform="translate(264.2,133.2) rotate(0)">
<rect x="-5.85" y="-4.5" width="11.7" height="9" fill="url(#gCyl)" stroke="#e2c93c" stroke-width="0.8"/>
<rect x="-5.85" y="-5.5" width="3.2" height="11" rx="1" fill="url(#gCylL)" stroke="#e2c93c" stroke-width="0.9"/>
<rect x="2.6499999999999995" y="-5.5" width="3.2" height="11" rx="1" fill="url(#gCylL)" stroke="#e2c93c" stroke-width="0.9"/>
</g>
<g transform="translate(234,176) rotate(-7)">
<rect x="-2.5" y="-10.5" width="5" height="3" fill="#ddd" stroke="#999" stroke-width="0.5"/>
<rect x="-2.5" y="7.5" width="5" height="3" fill="#ddd" stroke="#999" stroke-width="0.5"/>
<rect x="-7" y="-7.2" width="14" height="14.4" fill="url(#gCylV)" stroke="#d8c24a" stroke-width="0.8"/>
<line x1="-7" y1="-3.3" x2="7" y2="-3.3" stroke="#d8c24a" stroke-width="0.9"/>
<line x1="-7" y1="3.3" x2="7" y2="3.3" stroke="#d8c24a" stroke-width="0.9"/>
<rect x="-9.5" y="-8.6" width="19" height="2" rx="0.8" fill="#1a1a1a"/>
<rect x="-9.5" y="6.6" width="19" height="2" rx="0.8" fill="#1a1a1a"/>
</g>
<g transform="translate(177,232) rotate(45)">
<rect x="-3" y="-9.5" width="6" height="3" fill="#ddd" stroke="#999" stroke-width="0.5"/>
<rect x="-3" y="6.5" width="6" height="3" fill="#ddd" stroke="#999" stroke-width="0.5"/>
<rect x="-6.5" y="-6.5" width="13" height="13" fill="url(#gCylV2)" stroke="#d8c24a" stroke-width="1"/>
<rect x="-8" y="-7.5" width="16" height="2.2" rx="0.8" fill="#2a2a2a" stroke="#d8c24a" stroke-width="0.6"/>
<rect x="-8" y="5.3" width="16" height="2.2" rx="0.8" fill="#2a2a2a" stroke="#d8c24a" stroke-width="0.6"/>
</g>
</g>
<path d="M309.70,113.50 L310.18,114.13 L310.52,114.82 L310.74,115.54 L310.83,116.27 L310.77,116.99 L310.57,117.67 L310.23,118.30 L309.76,118.85 L309.18,119.30 L308.52,119.66 L307.80,119.90 L307.01,120.01 L306.90,120.80 L306.66,121.52 L306.30,122.18 L305.85,122.76 L305.30,123.23 L304.67,123.57 L303.99,123.77 L303.27,123.83 L302.54,123.74 L301.82,123.52 L301.13,123.18 L300.50,122.70 L299.87,123.18 L299.18,123.52 L298.46,123.74 L297.73,123.83 L297.01,123.77 L296.33,123.57 L295.70,123.23 L295.15,122.76 L294.70,122.18 L294.34,121.52 L294.10,120.80 L293.99,120.01 L293.20,119.90 L292.48,119.66 L291.82,119.30 L291.24,118.85 L290.77,118.30 L290.43,117.67 L290.23,116.99 L290.17,116.27 L290.26,115.54 L290.48,114.82 L290.82,114.13 L291.30,113.50 L290.82,112.87 L290.48,112.18 L290.26,111.46 L290.17,110.73 L290.23,110.01 L290.43,109.33 L290.77,108.70 L291.24,108.15 L291.82,107.70 L292.48,107.34 L293.20,107.10 L293.99,106.99 L294.10,106.20 L294.34,105.48 L294.70,104.82 L295.15,104.24 L295.70,103.77 L296.33,103.43 L297.01,103.23 L297.73,103.17 L298.46,103.26 L299.18,103.48 L299.87,103.82 L300.50,104.30 L301.13,103.82 L301.82,103.48 L302.54,103.26 L303.27,103.17 L303.99,103.23 L304.67,103.43 L305.30,103.77 L305.85,104.24 L306.30,104.82 L306.66,105.48 L306.90,106.20 L307.01,106.99 L307.80,107.10 L308.52,107.34 L309.18,107.70 L309.76,108.15 L310.23,108.70 L310.57,109.33 L310.77,110.01 L310.83,110.73 L310.74,111.46 L310.52,112.18 L310.18,112.87 L309.70,113.50 Z" fill="url(#gDisc)" stroke="#b89e3c" stroke-width="0.8"/>
<circle cx="300.5" cy="113.5" r="5" fill="#fff" stroke="#e9d97a" stroke-width="1"/>
<circle cx="233.6" cy="93" r="10.6" fill="#fff" stroke="#111" stroke-width="1.3"/>
<text x="233.6" y="97.62" class="num" font-size="13.2" textLength="7.4" lengthAdjust="spacingAndGlyphs">3</text>
<line x1="222.5" y1="93.5" x2="210.50" y2="93.50" stroke="#111" stroke-width="1"/>
<path d="M206,93.5 L210.50,91.30 L210.50,95.70 Z" fill="#111"/>
<line x1="226" y1="101.5" x2="218.68" y2="108.82" stroke="#111" stroke-width="1"/>
<path d="M215.5,112 L217.13,107.26 L220.24,110.37 Z" fill="#111"/>
<circle cx="343" cy="96" r="10.6" fill="#fff" stroke="#111" stroke-width="1.3"/>
<text x="343" y="100.27" class="num" font-size="12.2" textLength="13.4" lengthAdjust="spacingAndGlyphs">16</text>
<line x1="333" y1="100.5" x2="317.21" y2="106.42" stroke="#111" stroke-width="1"/>
<path d="M313,108 L316.44,104.36 L317.99,108.48 Z" fill="#111"/>
<circle cx="301" cy="150.8" r="10.6" fill="#fff" stroke="#111" stroke-width="1.3"/>
<text x="301" y="155.42" class="num" font-size="13.2" textLength="7.4" lengthAdjust="spacingAndGlyphs">4</text>
<line x1="291" y1="146.3" x2="276.62" y2="140.00" stroke="#111" stroke-width="1"/>
<path d="M272.5,138.2 L277.50,137.99 L275.74,142.02 Z" fill="#111"/>
<line x1="311" y1="146.3" x2="324.90" y2="140.05" stroke="#111" stroke-width="1"/>
<path d="M329,138.2 L325.80,142.05 L323.99,138.04 Z" fill="#111"/>
<circle cx="212" cy="155" r="10.6" fill="#fff" stroke="#111" stroke-width="1.3"/>
<text x="212" y="159.62" class="num" font-size="13.2" textLength="7.4" lengthAdjust="spacingAndGlyphs">5</text>
<line x1="201.7" y1="159.2" x2="192.77" y2="162.18" stroke="#111" stroke-width="1"/>
<path d="M188.5,163.6 L192.07,160.09 L193.46,164.26 Z" fill="#111"/>
<circle cx="259" cy="205" r="10.6" fill="#fff" stroke="#111" stroke-width="1.3"/>
<text x="259" y="209.27" class="num" font-size="12.2" textLength="13.4" lengthAdjust="spacingAndGlyphs">11</text>
<line x1="251" y1="197" x2="243.61" y2="189.26" stroke="#111" stroke-width="1"/>
<path d="M240.5,186 L245.20,187.74 L242.02,190.77 Z" fill="#111"/>
<circle cx="199.5" cy="256" r="10.6" fill="#fff" stroke="#111" stroke-width="1.3"/>
<text x="199.5" y="260.62" class="num" font-size="13.2" textLength="7.4" lengthAdjust="spacingAndGlyphs">2</text>
<line x1="193" y1="247.5" x2="186.77" y2="241.59" stroke="#111" stroke-width="1"/>
<path d="M183.5,238.5 L188.28,240.00 L185.25,243.19 Z" fill="#111"/>
<path d="M150,538 C152,556 160,566 172,572 C182,577.5 192,581.3 212,581.3 L380,581.3 C400,581.3 418,579 429,575 C442,569 448,559 451.5,545 C453.5,536 454.5,526 455,516" fill="none" stroke="#1a1a1a" stroke-width="2"/>
<g transform="translate(250.6,581.9) rotate(0)">
<rect x="-9.25" y="-5.75" width="18.5" height="11.5" fill="url(#gCyl)" stroke="#e2c93c" stroke-width="0.8"/>
<rect x="-9.25" y="-6.75" width="3.6" height="13.5" rx="1" fill="url(#gCylL)" stroke="#e2c93c" stroke-width="0.9"/>
<rect x="5.65" y="-6.75" width="3.6" height="13.5" rx="1" fill="url(#gCylL)" stroke="#e2c93c" stroke-width="0.9"/>
</g>
<g transform="translate(350,581.9) rotate(0)">
<rect x="-9.0" y="-5.75" width="18" height="11.5" fill="url(#gCyl)" stroke="#e2c93c" stroke-width="0.8"/>
<rect x="-9.0" y="-6.75" width="3.6" height="13.5" rx="1" fill="url(#gCylL)" stroke="#e2c93c" stroke-width="0.9"/>
<rect x="5.4" y="-6.75" width="3.6" height="13.5" rx="1" fill="url(#gCylL)" stroke="#e2c93c" stroke-width="0.9"/>
</g>
<path fill-rule="evenodd" d="M219,458 C224,456 228,454 236,453.8 C250,453.5 262,450.5 280,449 C300,447.6 320,448 338,450.5 C346,452 352,454 358,456
 L368,461 C371,466 372,470 372,480 L372,500 C372,506 376,512 382,518 L392,526 L378,534 C374,528 372,522 366,519.5 C355,519.8 345,519.9 338,519.9 L305,519.9 C280,519.9 255,519.9 240,519.6 C232,519 226,516.5 221,511.5
 C225,505 226.5,498 226.5,485 C226.5,472 225,464 219,458 Z
 M243.5,469.5 C250,467 262,464 280,462.5 C300,461 322,461.5 340,464.5 C348,466 353,468 357.3,469.8 C355.5,478 355.5,491 358.5,499.5 C354,503 349,505.5 340,507 C320,508.5 300,508.5 280,508.5 C265,508.5 255,506 248,502.5 C244,500 242,498 243.5,494 C245.5,488 245.5,478 243.5,469.5 Z" fill="url(#gSub)" stroke="#4a4a4a" stroke-width="1"/>
<path d="M216.5,436 L235,452.5 L221,457.5 L211,455.5 L205,449 Z" fill="#a9a9a9" stroke="#444" stroke-width="0.8"/>
<path d="M186.42,487.17 L223.42,453.67 L218.58,448.33 L181.58,481.83 Z" fill="url(#gRod)" stroke="#1e1e1e" stroke-width="1.1" stroke-linejoin="round"/>
<path d="M181.58,488.17 L218.58,521.67 L223.42,516.33 L186.42,482.83 Z" fill="url(#gRod)" stroke="#1e1e1e" stroke-width="1.1" stroke-linejoin="round"/>
<circle cx="205.3" cy="438.7" r="10.8" fill="url(#gDisc)" stroke="#c9b24a" stroke-width="0.8"/>
<circle cx="205.3" cy="438.7" r="2.9" fill="#000"/>
<circle cx="214.3" cy="534.5" r="11.4" fill="url(#gDisc)" stroke="#c9b24a" stroke-width="0.8"/>
<circle cx="214.3" cy="534.5" r="2.9" fill="#000"/>
<g transform="translate(224.7,448.9) rotate(-45)">
<rect x="-6.25" y="-6.0" width="12.5" height="12" fill="url(#gCyl)" stroke="#d8c24a" stroke-width="0.9"/>
<rect x="-6.25" y="-7.5" width="2" height="15" rx="1" fill="#c8b040" stroke="#6a5a18" stroke-width="0.5"/>
<rect x="-1" y="-7.5" width="2" height="15" rx="1" fill="#c8b040" stroke="#6a5a18" stroke-width="0.5"/>
<rect x="4.25" y="-7.5" width="2" height="15" rx="1" fill="#c8b040" stroke="#6a5a18" stroke-width="0.5"/>
</g>
<g transform="translate(224.3,522.3) rotate(45)">
<rect x="-6.25" y="-6.0" width="12.5" height="12" fill="url(#gCyl)" stroke="#d8c24a" stroke-width="0.9"/>
<rect x="-6.25" y="-7.5" width="2" height="15" rx="1" fill="#c8b040" stroke="#6a5a18" stroke-width="0.5"/>
<rect x="-1" y="-7.5" width="2" height="15" rx="1" fill="#c8b040" stroke="#6a5a18" stroke-width="0.5"/>
<rect x="4.25" y="-7.5" width="2" height="15" rx="1" fill="#c8b040" stroke="#6a5a18" stroke-width="0.5"/>
</g>
<g transform="translate(177.5,485) rotate(0)">
<rect x="-7.5" y="-6.1" width="15" height="12.2" fill="url(#gCyl)" stroke="#e2c93c" stroke-width="0.8"/>
<rect x="-7.5" y="-7.1" width="4.2" height="14.2" rx="1" fill="url(#gCylL)" stroke="#e2c93c" stroke-width="0.9"/>
<rect x="3.3" y="-7.1" width="4.2" height="14.2" rx="1" fill="url(#gCylL)" stroke="#e2c93c" stroke-width="0.9"/>
</g>
<rect x="278.5" y="447.5" width="9" height="13" fill="url(#gTube)" stroke="#555" stroke-width="0.8"/>
<rect x="275" y="435" width="16" height="14.6" rx="1.5" fill="#8a7a30" stroke="#d9c24c" stroke-width="1"/>
<rect x="277.3" y="436.5" width="5.2" height="11.6" fill="url(#gCylV)"/>
<rect x="283.5" y="436.5" width="5.2" height="11.6" fill="url(#gCylV)"/>
<rect x="275.5" y="435.2" width="15" height="1.3" fill="#3a3a2a"/>
<rect x="266.7" y="508.85" width="19" height="10.5" fill="url(#gCyl)" stroke="#d8c24a" stroke-width="0.8"/>
<rect x="265.2" y="518.35" width="22" height="4" rx="1" fill="url(#gCylL)" stroke="#d8c24a" stroke-width="0.8"/>
<rect x="315.5" y="508.85" width="19" height="10.5" fill="url(#gCyl)" stroke="#d8c24a" stroke-width="0.8"/>
<rect x="314.0" y="518.35" width="22" height="4" rx="1" fill="url(#gCylL)" stroke="#d8c24a" stroke-width="0.8"/>
<path d="M385,434 L367.5,452 L408,452 L404,444 Z" fill="#d9d9d9" stroke="#444" stroke-width="0.7"/>
<path d="M386,458 L378,465 L384,465 Z" fill="#d0d0d0" stroke="#555" stroke-width="0.6"/>
<rect x="362" y="451.8" width="60" height="6.4" fill="url(#gArm)" stroke="#2a2a2a" stroke-width="1"/>
<circle cx="395.9" cy="438.8" r="11.4" fill="url(#gDisc)" stroke="#c9b24a" stroke-width="0.8"/>
<circle cx="395.9" cy="438.8" r="2.9" fill="#000"/>
<circle cx="359.8" cy="454.9" r="6" fill="url(#gDisc)" stroke="#cdb64c" stroke-width="0.8"/>
<circle cx="359.8" cy="454.9" r="1.3" fill="#000"/>
<circle cx="424" cy="454.9" r="6" fill="url(#gDisc)" stroke="#cdb64c" stroke-width="0.8"/>
<circle cx="424" cy="454.9" r="1.3" fill="#000"/>
<path fill-rule="evenodd" d="M374.8,464 C390,468 400,476 412,480 L412,491 C400,493 392,503 374.8,508 C373.6,496 373.6,476 374.8,464 Z M374.2,473.5 C386,473.5 393.5,479 393.5,487 C393.5,495 386,500.5 374.2,500.5 C373.75,492 373.75,482 374.2,473.5 Z" fill="url(#gArmC)" stroke="#2a2a2a" stroke-width="1"/>
<g transform="translate(375.2,468.8) rotate(0)">
<rect x="-5.25" y="-6.25" width="10.5" height="12.5" fill="url(#gCylV)" stroke="#e2c93c" stroke-width="0.8"/>
<rect x="-6.25" y="-6.25" width="12.5" height="2.6" rx="1" fill="url(#gCylVL)" stroke="#e2c93c" stroke-width="0.9"/>
<rect x="-6.25" y="3.65" width="12.5" height="2.6" rx="1" fill="url(#gCylVL)" stroke="#e2c93c" stroke-width="0.9"/>
</g>
<g transform="translate(375.2,502.8) rotate(0)">
<rect x="-5.25" y="-6.25" width="10.5" height="12.5" fill="url(#gCylV)" stroke="#e2c93c" stroke-width="0.8"/>
<rect x="-6.25" y="-6.25" width="12.5" height="2.6" rx="1" fill="url(#gCylVL)" stroke="#e2c93c" stroke-width="0.9"/>
<rect x="-6.25" y="3.65" width="12.5" height="2.6" rx="1" fill="url(#gCylVL)" stroke="#e2c93c" stroke-width="0.9"/>
</g>
<rect x="413.5" y="478" width="8" height="38" fill="url(#gTube)" stroke="#333" stroke-width="0.9"/>
<ellipse cx="409.5" cy="484" rx="2.2" ry="3.5" fill="#c8b040" stroke="#6a5a18" stroke-width="0.5"/>
<ellipse cx="425.5" cy="484" rx="2.2" ry="3.5" fill="#c8b040" stroke="#6a5a18" stroke-width="0.5"/>
<rect x="411" y="477.5" width="12" height="13" rx="1" fill="#1e1e1e" stroke="#c9b24a" stroke-width="0.8"/>
<rect x="414.6" y="477.5" width="5.6" height="13" fill="url(#gTube)" stroke="#333" stroke-width="0.5"/>
<ellipse cx="409.5" cy="510" rx="2.2" ry="3.5" fill="#c8b040" stroke="#6a5a18" stroke-width="0.5"/>
<ellipse cx="425.5" cy="510" rx="2.2" ry="3.5" fill="#c8b040" stroke="#6a5a18" stroke-width="0.5"/>
<rect x="411" y="503.5" width="12" height="13" rx="1" fill="#1e1e1e" stroke="#c9b24a" stroke-width="0.8"/>
<rect x="414.6" y="503.5" width="5.6" height="13" fill="url(#gTube)" stroke="#333" stroke-width="0.5"/>
<g transform="translate(437.5,490.5) rotate(0)">
<rect x="-7.25" y="-6.25" width="14.5" height="12.5" fill="url(#gCyl)" stroke="#e2c93c" stroke-width="0.8"/>
<rect x="-7.25" y="-7.25" width="4" height="14.5" rx="1" fill="url(#gCylL)" stroke="#e2c93c" stroke-width="0.9"/>
<rect x="3.25" y="-7.25" width="4" height="14.5" rx="1" fill="url(#gCylL)" stroke="#e2c93c" stroke-width="0.9"/>
</g>
<circle cx="387" cy="534.2" r="11.3" fill="url(#gDisc)" stroke="#c9b24a" stroke-width="0.8"/>
<circle cx="387" cy="534.2" r="2.9" fill="#000"/>
<circle cx="250.9" cy="416.3" r="10.6" fill="#fff" stroke="#111" stroke-width="1.3"/>
<text x="250.9" y="420.57" class="num" font-size="12.2" textLength="13.4" lengthAdjust="spacingAndGlyphs">21</text>
<line x1="245" y1="425.5" x2="235.93" y2="436.08" stroke="#111" stroke-width="1"/>
<path d="M233,439.5 L234.26,434.65 L237.60,437.52 Z" fill="#111"/>
<circle cx="292.4" cy="402.6" r="10.6" fill="#fff" stroke="#111" stroke-width="1.3"/>
<text x="292.4" y="406.87" class="num" font-size="12.2" textLength="13.4" lengthAdjust="spacingAndGlyphs">31</text>
<line x1="288.3" y1="412.8" x2="282.54" y2="428.57" stroke="#111" stroke-width="1"/>
<path d="M281,432.8 L280.48,427.82 L284.61,429.33 Z" fill="#111"/>
<circle cx="372" cy="400" r="10.6" fill="#fff" stroke="#111" stroke-width="1.3"/>
<text x="372" y="404.27" class="num" font-size="12.2" textLength="13.4" lengthAdjust="spacingAndGlyphs">20</text>
<line x1="378" y1="409.5" x2="386.53" y2="420.45" stroke="#111" stroke-width="1"/>
<path d="M389.3,424 L384.80,421.80 L388.27,419.10 Z" fill="#111"/>
<circle cx="333.3" cy="428" r="10.6" fill="#fff" stroke="#111" stroke-width="1.3"/>
<text x="333.3" y="432.27" class="num" font-size="12.2" textLength="13.4" lengthAdjust="spacingAndGlyphs">17</text>
<line x1="340" y1="436.5" x2="349.17" y2="447.80" stroke="#111" stroke-width="1"/>
<path d="M352,451.3 L347.46,449.19 L350.87,446.42 Z" fill="#111"/>
<circle cx="445.3" cy="421.3" r="10.6" fill="#fff" stroke="#111" stroke-width="1.3"/>
<text x="445.3" y="425.57" class="num" font-size="12.2" textLength="13.4" lengthAdjust="spacingAndGlyphs">18</text>
<line x1="439.5" y1="430" x2="430.61" y2="441.09" stroke="#111" stroke-width="1"/>
<path d="M427.8,444.6 L428.90,439.71 L432.33,442.46 Z" fill="#111"/>
<circle cx="336.4" cy="485.5" r="10.6" fill="#fff" stroke="#111" stroke-width="1.3"/>
<text x="336.4" y="489.77" class="num" font-size="12.2" textLength="13.4" lengthAdjust="spacingAndGlyphs">14</text>
<line x1="346.5" y1="481" x2="362.62" y2="471.57" stroke="#111" stroke-width="1"/>
<path d="M366.5,469.3 L363.73,473.47 L361.50,469.67 Z" fill="#111"/>
<line x1="346.5" y1="490" x2="362.38" y2="496.99" stroke="#111" stroke-width="1"/>
<path d="M366.5,498.8 L361.50,499.00 L363.27,494.97 Z" fill="#111"/>
<circle cx="174.7" cy="528" r="10.6" fill="#fff" stroke="#111" stroke-width="1.3"/>
<text x="174.7" y="532.27" class="num" font-size="12.2" textLength="13.4" lengthAdjust="spacingAndGlyphs">15</text>
<line x1="176" y1="517.3" x2="177.20" y2="499.19" stroke="#111" stroke-width="1"/>
<path d="M177.5,494.7 L179.40,499.34 L175.01,499.04 Z" fill="#111"/>
<circle cx="454.2" cy="528" r="10" fill="#fff" stroke="#111" stroke-width="1.3"/>
<text x="454.2" y="532.27" class="num" font-size="12.2" textLength="13.4" lengthAdjust="spacingAndGlyphs">15</text>
<line x1="451" y1="518.5" x2="443.36" y2="506.13" stroke="#111" stroke-width="1"/>
<path d="M441,502.3 L445.24,504.97 L441.49,507.28 Z" fill="#111"/>
<circle cx="410.8" cy="532.5" r="10.6" fill="#fff" stroke="#111" stroke-width="1.3"/>
<text x="410.8" y="536.77" class="num" font-size="12.2" textLength="13.4" lengthAdjust="spacingAndGlyphs">22</text>
<line x1="404.5" y1="523" x2="407.77" y2="495.27" stroke="#111" stroke-width="1"/>
<path d="M408.3,490.8 L409.96,495.53 L405.59,495.01 Z" fill="#111"/>
<circle cx="244.6" cy="555.4" r="10.6" fill="#fff" stroke="#111" stroke-width="1.3"/>
<text x="244.6" y="559.67" class="num" font-size="12.2" textLength="13.4" lengthAdjust="spacingAndGlyphs">12</text>
<line x1="240.8" y1="545.4" x2="233.61" y2="533.36" stroke="#111" stroke-width="1"/>
<path d="M231.3,529.5 L235.50,532.23 L231.72,534.49 Z" fill="#111"/>
<circle cx="299.8" cy="555.6" r="10.6" fill="#fff" stroke="#111" stroke-width="1.3"/>
<text x="299.8" y="559.87" class="num" font-size="12.2" textLength="13.4" lengthAdjust="spacingAndGlyphs">32</text>
<line x1="295.3" y1="545.8" x2="286.32" y2="532.53" stroke="#111" stroke-width="1"/>
<path d="M283.8,528.8 L288.14,531.29 L284.50,533.76 Z" fill="#111"/>
<line x1="304.3" y1="545.8" x2="314.74" y2="532.35" stroke="#111" stroke-width="1"/>
<path d="M317.5,528.8 L316.48,533.70 L313.00,531.01 Z" fill="#111"/>
<circle cx="301.25" cy="585" r="10.6" fill="#fff" stroke="#111" stroke-width="1.3"/>
<text x="301.25" y="589.27" class="num" font-size="12.2" textLength="13.4" lengthAdjust="spacingAndGlyphs">10</text>
<line x1="291" y1="588.5" x2="268.25" y2="585.15" stroke="#111" stroke-width="1"/>
<path d="M263.8,584.5 L268.57,582.98 L267.93,587.33 Z" fill="#111"/>
<line x1="311.5" y1="588.5" x2="333.05" y2="585.18" stroke="#111" stroke-width="1"/>
<path d="M337.5,584.5 L333.39,587.36 L332.72,583.01 Z" fill="#111"/>
<path d="M455,516 C454.8,523 454.3,530 453.4,538" fill="none" stroke="#1a1a1a" stroke-width="1.6"/>
<text x="148.9" y="570.8" class="lbl" font-size="20.3" stroke="#111" stroke-width="0.5" textLength="75.2" lengthAdjust="spacingAndGlyphs">LOWER</text>
<text x="379.6" y="570.2" class="lbl" font-size="20.5" stroke="#111" stroke-width="0.5" textLength="70" lengthAdjust="spacingAndGlyphs">UPPER</text>
</svg></body></html>
